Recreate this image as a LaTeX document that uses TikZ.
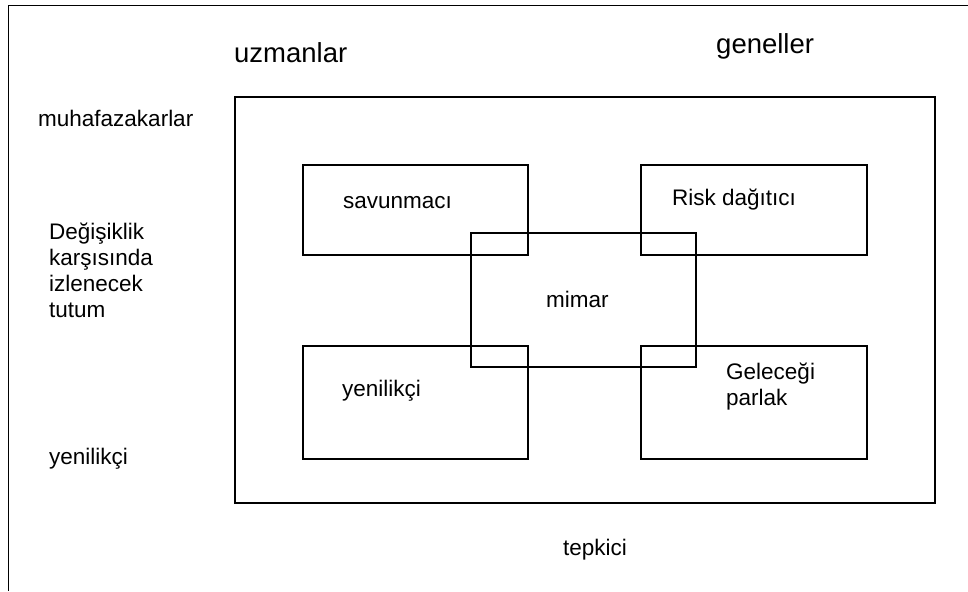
\documentclass[tikz,border=0pt]{standalone}
\usepackage{fontspec}
\setmainfont{Liberation Sans}
\begin{document}
\begin{tikzpicture}[x=1pt,y=-1pt,
  box/.style={draw,line width=1.6pt,rectangle,inner sep=0pt,anchor=north west},
  lbl/.style={anchor=base west,inner sep=0pt,font=\fontsize{22.5}{26}\selectfont},
  big/.style={anchor=base west,inner sep=0pt,font=\fontsize{27.5}{32}\selectfont}]
\useasboundingbox (0,0) rectangle (968,591);
% outer frame
\coordinate (ftl) at (8.5,5.5);
\coordinate (ftr) at (968,5.5);
\coordinate (fbl) at (8.5,591);
\draw[line width=1.6pt] (ftr) -- (ftl) -- (fbl);
% big rectangle
\node[box,minimum width=700pt,minimum height=406pt] (main) at (234,96) {};
% inner boxes
\node[box,minimum width=225pt,minimum height=90pt] (sav) at (302,164) {};
\node[box,minimum width=226pt,minimum height=90pt] (risk) at (640,164) {};
\node[box,minimum width=225pt,minimum height=113pt] (yen) at (302,345) {};
\node[box,minimum width=226pt,minimum height=113pt] (gel) at (640,345) {};
\node[box,minimum width=225pt,minimum height=134pt] (mim) at (470,232) {};
% headings
\node[big] (uzm) at (234,63) {uzmanlar};
\node[big] (gen) at (716,54) {geneller};
% left labels
\node[lbl] (muh) at (38,127) {muhafazakarlar};
\node[lbl] (d1) at (49,239) {Değişiklik};
\node[lbl] (d2) at (49,265) {karşısında};
\node[lbl] (d3) at (49,291) {izlenecek};
\node[lbl] (d4) at (49,317) {tutum};
\node[lbl] (yenl) at (49,464) {yenilikçi};
\node[lbl] (tep) at (563,555) {tepkici};
% box labels
\node[lbl] (savt) at (343,208) {savunmacı};
\node[lbl] (riskt) at (672,205) {Risk dağıtıcı};
\node[lbl] (mimt) at (546,307) {mimar};
\node[lbl] (yent) at (342,396) {yenilikçi};
\node[lbl] (gel1) at (726,379) {Geleceği};
\node[lbl] (gel2) at (726,405) {parlak};
\end{tikzpicture}
\end{document}
